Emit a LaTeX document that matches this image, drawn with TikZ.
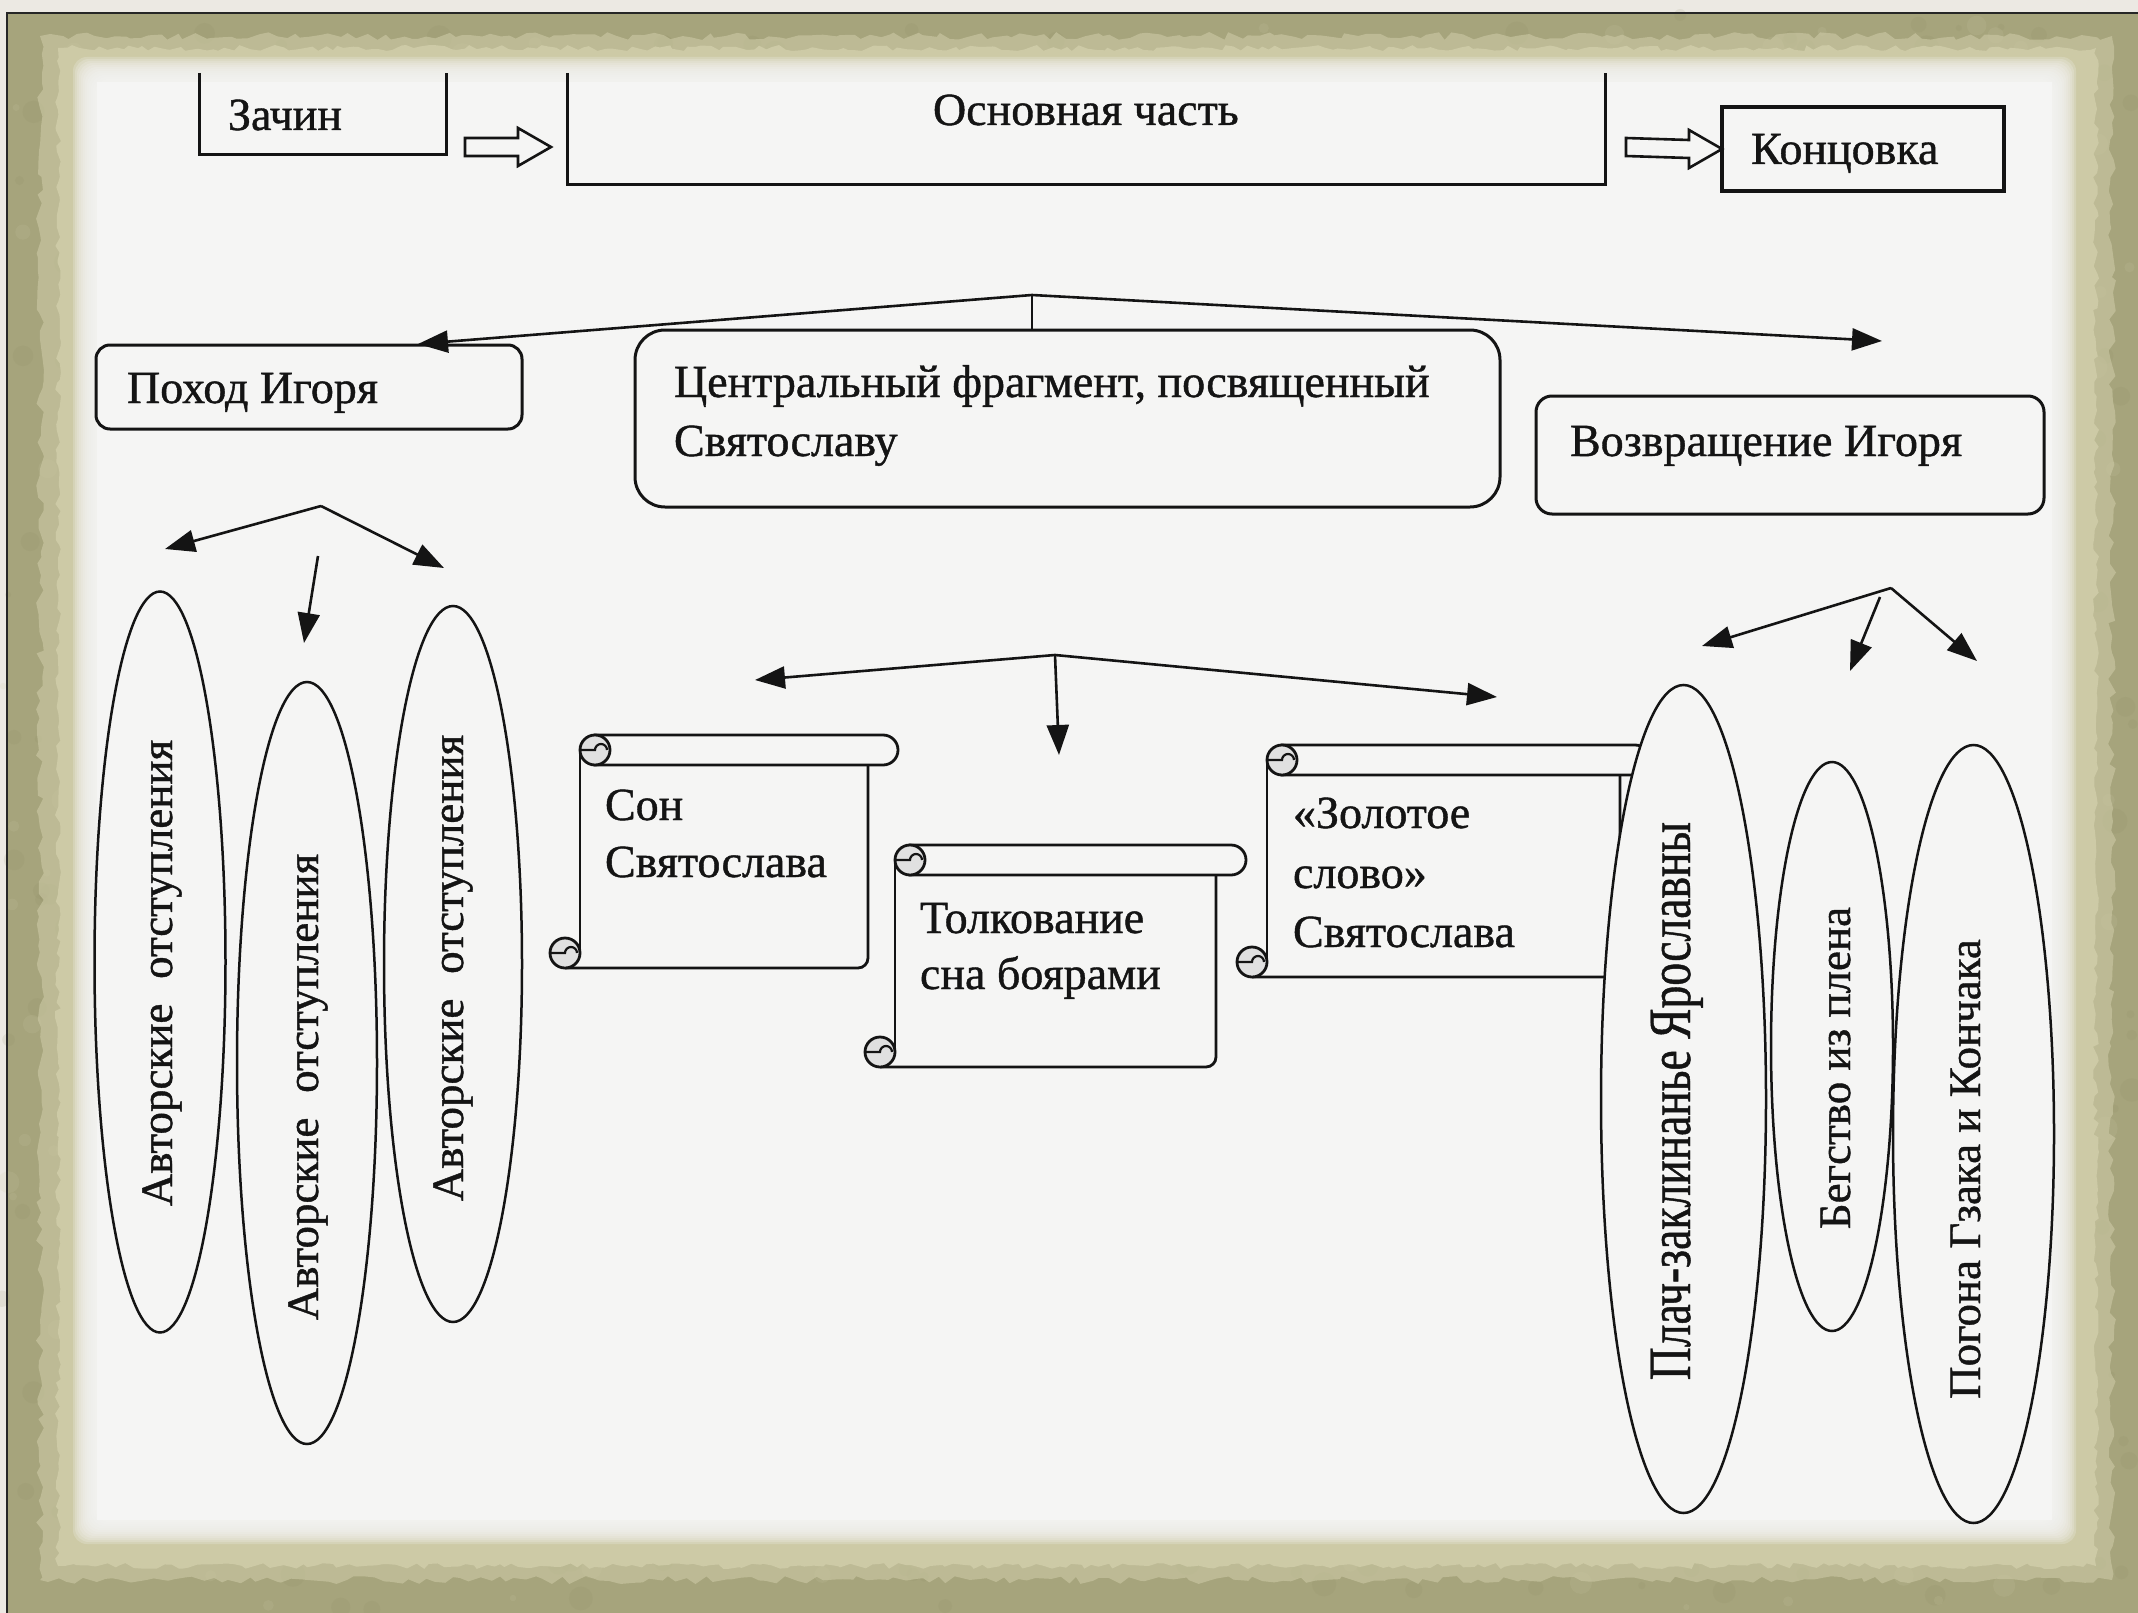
\documentclass[tikz,border=0pt]{standalone}
\usepackage{fontspec}
\setmainfont[FakeBold=0.9]{Liberation Serif}
\newfontfamily\condserif[FakeStretch=0.76,FakeBold=0.7]{Liberation Serif}
\usetikzlibrary{calc,shapes.geometric,arrows.meta,decorations.pathmorphing}
\definecolor{bgbeige}{HTML}{ECE9E3}
\definecolor{frameolive}{HTML}{A6A47C}
\definecolor{framedark}{HTML}{8C8A63}
\definecolor{framelight}{HTML}{CDCAA6}
\definecolor{paper}{HTML}{F5F5F4}
\definecolor{ink}{HTML}{141414}
\newcommand\blockarrow[2]{%
  \draw[blockarr] ($(#1)+(0,-9)$) -- ($(#2)+(-33,-9)$) -- ($(#2)+(-33,-19)$) -- (#2)
     -- ($(#2)+(-33,19)$) -- ($(#2)+(-33,9)$) -- ($(#1)+(0,9)$) -- cycle;}
\newcommand\scrollshape[4]{% left top right bottom
  \fill[paper] ({#1+30},{#2+15}) rectangle ({#3-30},{#4});
  \draw[scrollline] ({#1+30},{#2+15}) -- ({#1+30},{#4-15});
  \draw[scrollline] ({#1+15},{#4}) -- ({#3-40},{#4}) arc[start angle=90, end angle=0, radius=10] -- ({#3-30},{#2+30});
  \filldraw[scrollline, fill=paper] ({#1+45},{#2}) -- ({#3-15},{#2}) arc[start angle=-90, end angle=90, radius=15] -- ({#1+45},{#2+30}) -- cycle;
  \filldraw[scrollline, fill=black!12] ({#1+45},{#2+15}) circle[radius=15];
  \draw[scrollline, line width=2.2pt] ({#1+31},{#2+15}) -- ({#1+45},{#2+15}) arc[start angle=180, end angle=360, radius=6];
  \filldraw[scrollline, fill=black!12] ({#1+15},{#4-15}) circle[radius=15];
  \draw[scrollline, line width=2.2pt] ({#1+1},{#4-15}) -- ({#1+15},{#4-15}) arc[start angle=180, end angle=360, radius=6];
}
\begin{document}
\begin{tikzpicture}[x=1pt,y=-1pt,
  every node/.style={inner sep=0pt, outer sep=0pt, text=ink},
  txt/.style={font=\fontsize{46}{57}\selectfont, anchor=base west},
  vtxt/.style={font=\fontsize{45}{54}\selectfont, rotate=90, anchor=base},
  boxline/.style={draw=ink, line width=3pt},
  rbox/.style={boxline, rounded corners=#1},
  oval/.style={ellipse, draw=ink, line width=2.5pt},
  conn/.style={draw=ink, line width=2.6pt},
  tip/.style={conn, -{Triangle[length=30pt,width=22pt]}},
  blockarr/.style={draw=ink, line width=2.6pt, fill=paper, line join=miter},
  scrollline/.style={draw=ink, line width=2.8pt},
]
\useasboundingbox (0,0) rectangle (2138,1613);
% ---------- frame ----------
\fill[bgbeige] (0,0) rectangle (2138,1613);
\fill[frameolive] (7,13) rectangle (2138,1613);
\pgfmathsetseed{12}
\foreach \i in {1,...,700} {
  \pgfmathsetmacro\px{rnd*2138}
  \pgfmathsetmacro\py{13+rnd*1600}
  \pgfmathsetmacro\pr{3+rnd*10}
  \fill[framedark, opacity=0.12] (\px,\py) circle[radius=\pr];
}
\foreach \i in {1,...,500} {
  \pgfmathsetmacro\px{rnd*2138}
  \pgfmathsetmacro\py{13+rnd*1600}
  \pgfmathsetmacro\pr{3+rnd*9}
  \fill[framelight, opacity=0.15] (\px,\py) circle[radius=\pr];
}
\draw[line width=2pt, black!85] (7,1613) -- (7,13) -- (2138,13);
\fill[framelight, opacity=0.6, decorate, decoration={random steps, segment length=9pt, amplitude=4pt}]
  (40,36) rectangle (2112,1580);
\fill[framelight, decorate, decoration={random steps, segment length=7pt, amplitude=3pt}]
  (58,48) rectangle (2096,1566);
\foreach \i in {0,...,11} {
  \fill[paper, opacity=0.22, rounded corners=14] ({73+2*\i},{57+2*\i}) rectangle ({2076-2*\i},{1544-2*\i});
}
\fill[paper] (97,82) rectangle (2052,1520);

% ---------- top row ----------
\node[minimum width=247, minimum height=82] (zachin) at (322.5,114) {};
\draw[boxline] (zachin.north west) -- (zachin.south west) -- (zachin.south east) -- (zachin.north east);
\node[txt] (zachintxt) at (228,130) {Зачин};

\node[minimum width=1038, minimum height=112] (osn) at (1086,129) {};
\draw[boxline] (osn.north west) -- (osn.south west) -- (osn.south east) -- (osn.north east);
\node[txt] (osntxt) at (933,125) {Основная часть};

\node[boxline, line width=3.4pt, minimum width=282, minimum height=84] (konc) at (1863,149) {};
\node[txt] (konctxt) at (1751,164) {Концовка};

\coordinate (ba1s) at (465,147);
\coordinate (ba1e) at (551,147);
\coordinate (ba2s) at (1626,147);
\blockarrow{ba1s}{ba1e}
\blockarrow{ba2s}{konc.west}

% ---------- second row ----------
\node[rbox=14pt, minimum width=426, minimum height=84] (pohod) at (309,387) {};
\node[txt] (pohodtxt) at (127,403) {Поход Игоря};

\node[rbox=30pt, minimum width=865, minimum height=177] (central) at (1067.5,418.5) {};
\node[txt] (centtxt1) at (674,397) {Центральный фрагмент, посвященный};
\node[txt] (centtxt2) at (674,456) {Святославу};

\node[rbox=16pt, minimum width=508, minimum height=118] (vozv) at (1790,455) {};
\node[txt] (vozvtxt) at (1570,456) {Возвращение Игоря};

% top fork
\coordinate (f1) at (1032,295);
\coordinate (f1l) at (418,344);
\coordinate (f1r) at (1882,341);
\draw[conn] (f1) -- (f1 |- central.north);
\draw[tip] (f1) -- (f1l);
\draw[tip] (f1) -- (f1r);

% left fork
\coordinate (f2) at (321,506);
\coordinate (f2l) at (165,549);
\coordinate (f2r) at (444,568);
\coordinate (f2ms) at (318,556);
\coordinate (f2me) at (304,643);
\draw[tip] (f2) -- (f2l);
\draw[tip] (f2) -- (f2r);
\draw[tip] (f2ms) -- (f2me);

% middle fork
\coordinate (f3) at (1055,655);
\coordinate (f3l) at (755,680);
\coordinate (f3r) at (1497,697);
\coordinate (f3m) at (1059,755);
\draw[tip] (f3) -- (f3l);
\draw[tip] (f3) -- (f3r);
\draw[tip] (f3) -- (f3m);

% right fork
\coordinate (f4) at (1891,588);
\coordinate (f4l) at (1702,646);
\coordinate (f4ms) at (1880,597);
\coordinate (f4me) at (1850,671);
\coordinate (f4r) at (1977,661);
\draw[tip] (f4) -- (f4l);
\draw[tip] (f4ms) -- (f4me);
\draw[tip] (f4) -- (f4r);

% ---------- left ellipses ----------
\node[oval, minimum width=131, minimum height=741] (e1) at (160,962) {};
\node[oval, minimum width=140, minimum height=762] (e2) at (307,1063) {};
\node[oval, minimum width=138, minimum height=716] (e3) at (453,964) {};
\node[vtxt] (e1txt) at (172,973) {Авторские\hspace{0.3em} отступления};
\node[vtxt] (e2txt) at (318,1087) {Авторские\hspace{0.3em} отступления};
\node[vtxt] (e3txt) at (463,968) {Авторские\hspace{0.3em} отступления};

% ---------- scrolls ----------
\scrollshape{550}{735}{898}{968}
\node[txt] (s1a) at (605,820) {Сон};
\node[txt] (s1b) at (605,877) {Святослава};
\scrollshape{865}{845}{1246}{1067}
\node[txt] (s2a) at (920,933) {Толкование};
\node[txt] (s2b) at (920,989) {сна боярами};
\scrollshape{1237}{745}{1650}{977}
\node[txt] (s3a) at (1293,828) {«Золотое};
\node[txt] (s3b) at (1293,888) {слово»};
\node[txt] (s3c) at (1293,947) {Святослава};

% ---------- right ellipses ----------
\node[oval, fill=paper, minimum width=165, minimum height=828] (eplach) at (1683.5,1099) {};
\node[oval, minimum width=122, minimum height=569] (ebeg) at (1832,1046.5) {};
\node[oval, minimum width=161, minimum height=778] (epog) at (1973.5,1134) {};
\node[vtxt, font=\condserif\fontsize{60}{68}\selectfont] (plachtxt) at (1690,1101) {Плач-заклинанье Ярославны};
\node[vtxt] (begtxt) at (1850,1068) {Бегство из плена};
\node[vtxt] (pogtxt) at (1980,1169) {Погона Гзака и Кончака};
\end{tikzpicture}
\end{document}
